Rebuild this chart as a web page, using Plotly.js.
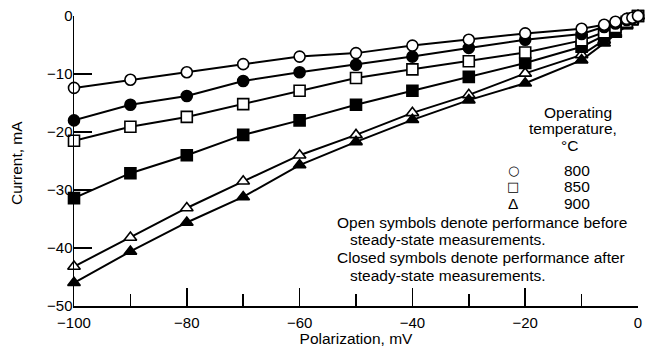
<!DOCTYPE html>
<html>
<head>
<meta charset="utf-8">
<script src="https://cdn.plot.ly/plotly-3.0.1.min.js"></script>
<style>html,body{margin:0;padding:0;background:#fff;}#chart{width:645px;height:350px;}</style>
</head>
<body>
<div id="chart"></div>
<script>
// Polarization, mV
const polarization = [-100, -90, -80, -70, -60, -50, -40, -30, -20, -10, -6, -4, -2, -1, 0];
// Current, mA
const c800Before = [-12.4, -11.0, -9.7, -8.3, -7.0, -6.4, -5.1, -4.1, -3.0, -2.2, -1.5, -1.0, -0.5, -0.3, 0];
const c800After  = [-18.0, -15.3, -13.8, -11.2, -9.7, -8.4, -7.0, -5.5, -4.1, -3.1, -1.9, -1.3, -0.7, -0.4, 0];
const c850Before = [-21.5, -19.1, -17.4, -15.2, -12.9, -10.7, -9.2, -7.8, -6.3, -4.2, -2.8, -1.9, -1.0, -0.5, 0];
const c850After  = [-31.4, -27.1, -24.0, -20.5, -18.0, -15.3, -12.9, -10.5, -8.1, -5.3, -3.4, -2.3, -1.2, -0.6, 0];
const c900Before = [-43.2, -38.2, -33.1, -28.5, -24.0, -20.5, -16.7, -13.6, -9.9, -6.7, -4.2, -2.9, -1.5, -0.8, 0];
const c900After  = [-46.0, -40.6, -35.6, -31.2, -25.7, -21.7, -17.9, -14.5, -11.6, -7.6, -4.7, -3.2, -1.7, -0.9, 0];

const xTicks = [-100, -80, -60, -40, -20, 0];
const yTicks = [-50, -40, -30, -20, -10, 0];
const tempLabels = ['800', '850', '900'];
const tempSymbols = ['○', '□', 'Δ'];

const FONT = 'Liberation Sans, Arial, Helvetica, sans-serif';

function series(y, symbol, open) {
  return {
    x: polarization, y: y, type: 'scatter', mode: 'lines+markers',
    line: {color: '#000', width: 2},
    marker: {symbol: symbol, size: 11, color: open ? '#fff' : '#000', line: {color: '#000', width: 1.6}},
    cliponaxis: false, showlegend: false, hoverinfo: 'skip'
  };
}

const data = [
  series(c900Before, 'triangle-up', true),
  series(c900After, 'triangle-up', false),
  series(c850After, 'square', false),
  series(c850Before, 'square', true),
  series(c800After, 'circle', false),
  series(c800Before, 'circle', true)
];

// plot area: x 74..638, y 16..306 (pixels)
const L = 74, R = 638, T = 16, B = 306;
const px = v => (v - L) / (R - L);
const py = v => (B - v) / (B - T);

const annotations = [];
function txt(text, x, y, xanchor, extra) {
  annotations.push(Object.assign({text: text, xref: 'paper', yref: 'paper', x: px(x), y: py(y),
    xanchor: xanchor || 'center', yanchor: 'middle', showarrow: false,
    font: {family: FONT, size: 15.5, color: '#000'}}, extra || {}));
}
txt('Operating', 578, 112);
txt('temperature,', 573, 128);
txt('°C', 569, 145);
tempLabels.forEach((t, i) => {
  const yy = [170, 186, 203][i];
  annotations.push({text: tempSymbols[i], xref: 'paper', yref: 'paper', x: px(513), y: py(yy),
    xanchor: 'center', yanchor: 'middle', showarrow: false,
    font: {family: i === 2 ? FONT : 'DejaVu Sans, sans-serif', size: i === 2 ? 15.5 : 13, color: '#000'}});
  txt(t, 577, yy);
});
txt('Open symbols denote performance before', 335, 222, 'left');
txt('steady-state measurements.', 348, 239, 'left');
txt('Closed symbols denote performance after', 335, 257, 'left');
txt('steady-state measurements.', 348, 275, 'left');
// y axis title
txt('Current, mA', 16, 163, 'center', {textangle: -90});

const layout = {
  width: 645, height: 350,
  margin: {l: L, r: 645 - R, t: T, b: 350 - B, pad: 0},
  paper_bgcolor: '#fff', plot_bgcolor: '#fff',
  font: {family: FONT, size: 15.5, color: '#000'},
  xaxis: {
    range: [-100, 0], tickvals: xTicks, ticks: 'inside', ticklen: 18, tickwidth: 1.5, tickcolor: '#000',
    minor: {dtick: 10, tick0: 0, ticks: 'inside', ticklen: 12, tickwidth: 1.5, tickcolor: '#000'},
    showline: true, linecolor: '#000', linewidth: 1.5, showgrid: false, zeroline: false,
    tickfont: {family: FONT, size: 15, color: '#000'},
    ticklabelstandoff: 2,
    title: {text: 'Polarization, mV', font: {family: FONT, size: 15.5, color: '#000'}, standoff: 0},
    automargin: false, fixedrange: true
  },
  yaxis: {
    range: [-50, 0], tickvals: yTicks, ticks: 'inside', ticklen: 18, tickwidth: 1.5, tickcolor: '#000',
    showline: true, linecolor: '#000', linewidth: 1.5, showgrid: false, zeroline: false,
    tickfont: {family: FONT, size: 15, color: '#000'},
    ticklabelstandoff: -3,
    automargin: false, fixedrange: true
  },
  annotations: annotations,
  showlegend: false
};

Plotly.newPlot('chart', data, layout, {staticPlot: true, displayModeBar: false});
</script>
</body>
</html>
